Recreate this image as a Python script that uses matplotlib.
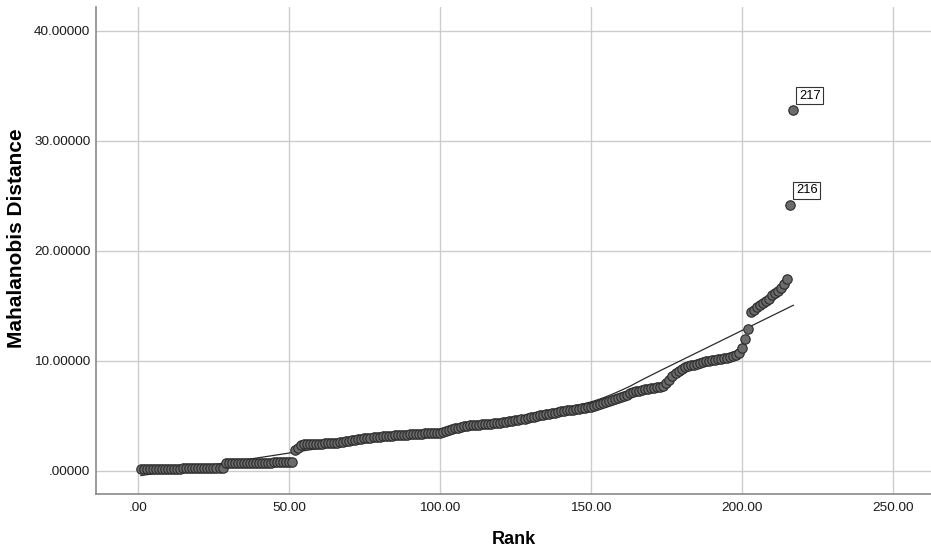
import numpy as np
import matplotlib
matplotlib.use("Agg")
import matplotlib.pyplot as plt

# Mahalanobis distance sorted by rank
distance = [
    # 1-28
    0.15, 0.16, 0.17, 0.17, 0.18, 0.18, 0.19, 0.19, 0.20, 0.20, 0.20, 0.21, 0.21, 0.21,
    0.22, 0.22, 0.22, 0.23, 0.23, 0.23, 0.24, 0.24, 0.25, 0.25, 0.26, 0.26, 0.27, 0.28,
    # 29-51
    0.68, 0.69, 0.70, 0.70, 0.71, 0.71, 0.72, 0.72, 0.73, 0.73, 0.74, 0.74, 0.75, 0.75,
    0.76, 0.76, 0.77, 0.77, 0.78, 0.78, 0.79, 0.80, 0.81,
    # 52-68
    1.88, 2.05,
    2.35, 2.40, 2.42, 2.44, 2.45, 2.46, 2.47, 2.48, 2.49, 2.50, 2.52, 2.54, 2.56, 2.58, 2.62,
    # 69-100
    2.72, 2.76, 2.80, 2.84, 2.88, 2.92, 2.96, 3.00, 3.03, 3.06, 3.08, 3.10, 3.13, 3.15,
    3.18, 3.20, 3.22, 3.24, 3.26, 3.28, 3.30, 3.32, 3.34, 3.35, 3.37, 3.38, 3.40, 3.41,
    3.42, 3.43, 3.44, 3.46,
    # 101-122
    3.55, 3.62, 3.70, 3.78, 3.86, 3.94,
    4.02, 4.08, 4.12, 4.15, 4.17, 4.19, 4.21, 4.23, 4.25, 4.27, 4.30, 4.33, 4.36, 4.39,
    4.42, 4.45,
    # 123-150
    4.50, 4.55, 4.60, 4.65, 4.70, 4.75, 4.80, 4.86, 4.92, 4.98, 5.05,
    5.10, 5.15, 5.20, 5.25, 5.30, 5.35, 5.40, 5.45,
    5.49, 5.53, 5.57, 5.61, 5.65, 5.69, 5.73, 5.77, 5.81,
    # 151-175
    5.90, 6.00, 6.10, 6.20, 6.28, 6.36, 6.44, 6.52, 6.60, 6.70, 6.80, 6.92, 7.04, 7.15,
    7.22, 7.28, 7.34, 7.40, 7.45, 7.50, 7.55, 7.60, 7.66, 7.75, 7.95,
    # 176-199
    8.30, 8.60, 8.85, 9.05, 9.25, 9.40, 9.50,
    9.58, 9.65, 9.72, 9.80, 9.88, 9.95, 10.00, 10.05, 10.10, 10.15, 10.20, 10.25, 10.30,
    10.36, 10.42, 10.55, 10.75,
    # 200-217
    11.15, 11.95, 12.85,
    14.45, 14.60, 14.85, 15.10, 15.25, 15.40, 15.65, 15.95, 16.15, 16.35, 16.65, 17.00, 17.45,
    24.20, 32.80,
]
rank = np.arange(1, len(distance) + 1)
labelled = [216, 217]

x_ticks = [0, 50, 100, 150, 200, 250]
y_ticks = [0, 10, 20, 30, 40]


def loess(x, y, span=0.5, iters=1):
    # local linear fit, epanechnikov weights + a robustness pass (spss style fit line)
    x = np.asarray(x, float)
    y = np.asarray(y, float)
    k = int(np.ceil(span * len(x)))
    rob = np.ones_like(y)
    fit = np.empty_like(y)
    for _ in range(iters + 1):
        for i, x0 in enumerate(x):
            d = np.abs(x - x0)
            h = np.sort(d)[k - 1] * 1.0001
            w = np.clip(1 - (d / h) ** 2, 0, None) * rob
            W = np.sum(w)
            xm = np.sum(w * x) / W
            ym = np.sum(w * y) / W
            b = np.sum(w * (x - xm) * (y - ym)) / np.sum(w * (x - xm) ** 2)
            fit[i] = ym + b * (x0 - xm)
        res = y - fit
        s = np.median(np.abs(res))
        rob = np.clip(1 - (res / (6 * s)) ** 2, 0, None) ** 2
    return fit


plt.rcParams['font.family'] = ['Liberation Sans', 'DejaVu Sans']

fig = plt.figure(figsize=(9.31, 5.56), dpi=100)
ax = fig.add_axes([0.1031, 0.1115, 0.8969, 0.876])

ax.scatter(rank, distance, s=46, facecolor='#6b6b6b', edgecolor='#2a2a2a',
           linewidth=0.8, zorder=3)
ax.plot(rank, loess(rank, distance), color='#2b2b2b', linewidth=0.9, zorder=2)

for r in labelled:
    ax.annotate(str(r), (r, distance[r - 1]), xytext=(4, 6), textcoords='offset points',
                ha='left', va='bottom', fontsize=9.3, zorder=4,
                bbox=dict(boxstyle='square,pad=0.2', fc='white', ec='#333333', lw=0.8))

ax.set_xlim(-13.9, 262.6)
ax.set_ylim(-2.1, 42.15)
ax.set_xticks(x_ticks)
ax.set_yticks(y_ticks)
ax.set_xticklabels([('%.2f' % v).lstrip('0') if v == 0 else '%.2f' % v for v in x_ticks])
ax.set_yticklabels([('%.5f' % v).lstrip('0') if v == 0 else '%.5f' % v for v in y_ticks])
ax.tick_params(axis='both', length=0, labelsize=9.7, colors='#1a1a1a')
ax.tick_params(axis='y', pad=4)
ax.tick_params(axis='x', pad=6)

ax.grid(True, color='#cccccc', linewidth=1.0)
ax.set_axisbelow(True)
for side in ['top', 'right']:
    ax.spines[side].set_visible(False)
for side in ['left', 'bottom']:
    ax.spines[side].set_color('#8a8a8a')
    ax.spines[side].set_linewidth(1.2)

ax.set_xlabel('Rank', fontsize=13, fontweight='bold')
ax.set_ylabel('Mahalanobis Distance', fontsize=15, fontweight='bold')
ax.xaxis.set_label_coords(0.5, -0.076)
ax.yaxis.set_label_coords(-0.0838, 0.526)

fig.savefig('out.png', dpi=100)
